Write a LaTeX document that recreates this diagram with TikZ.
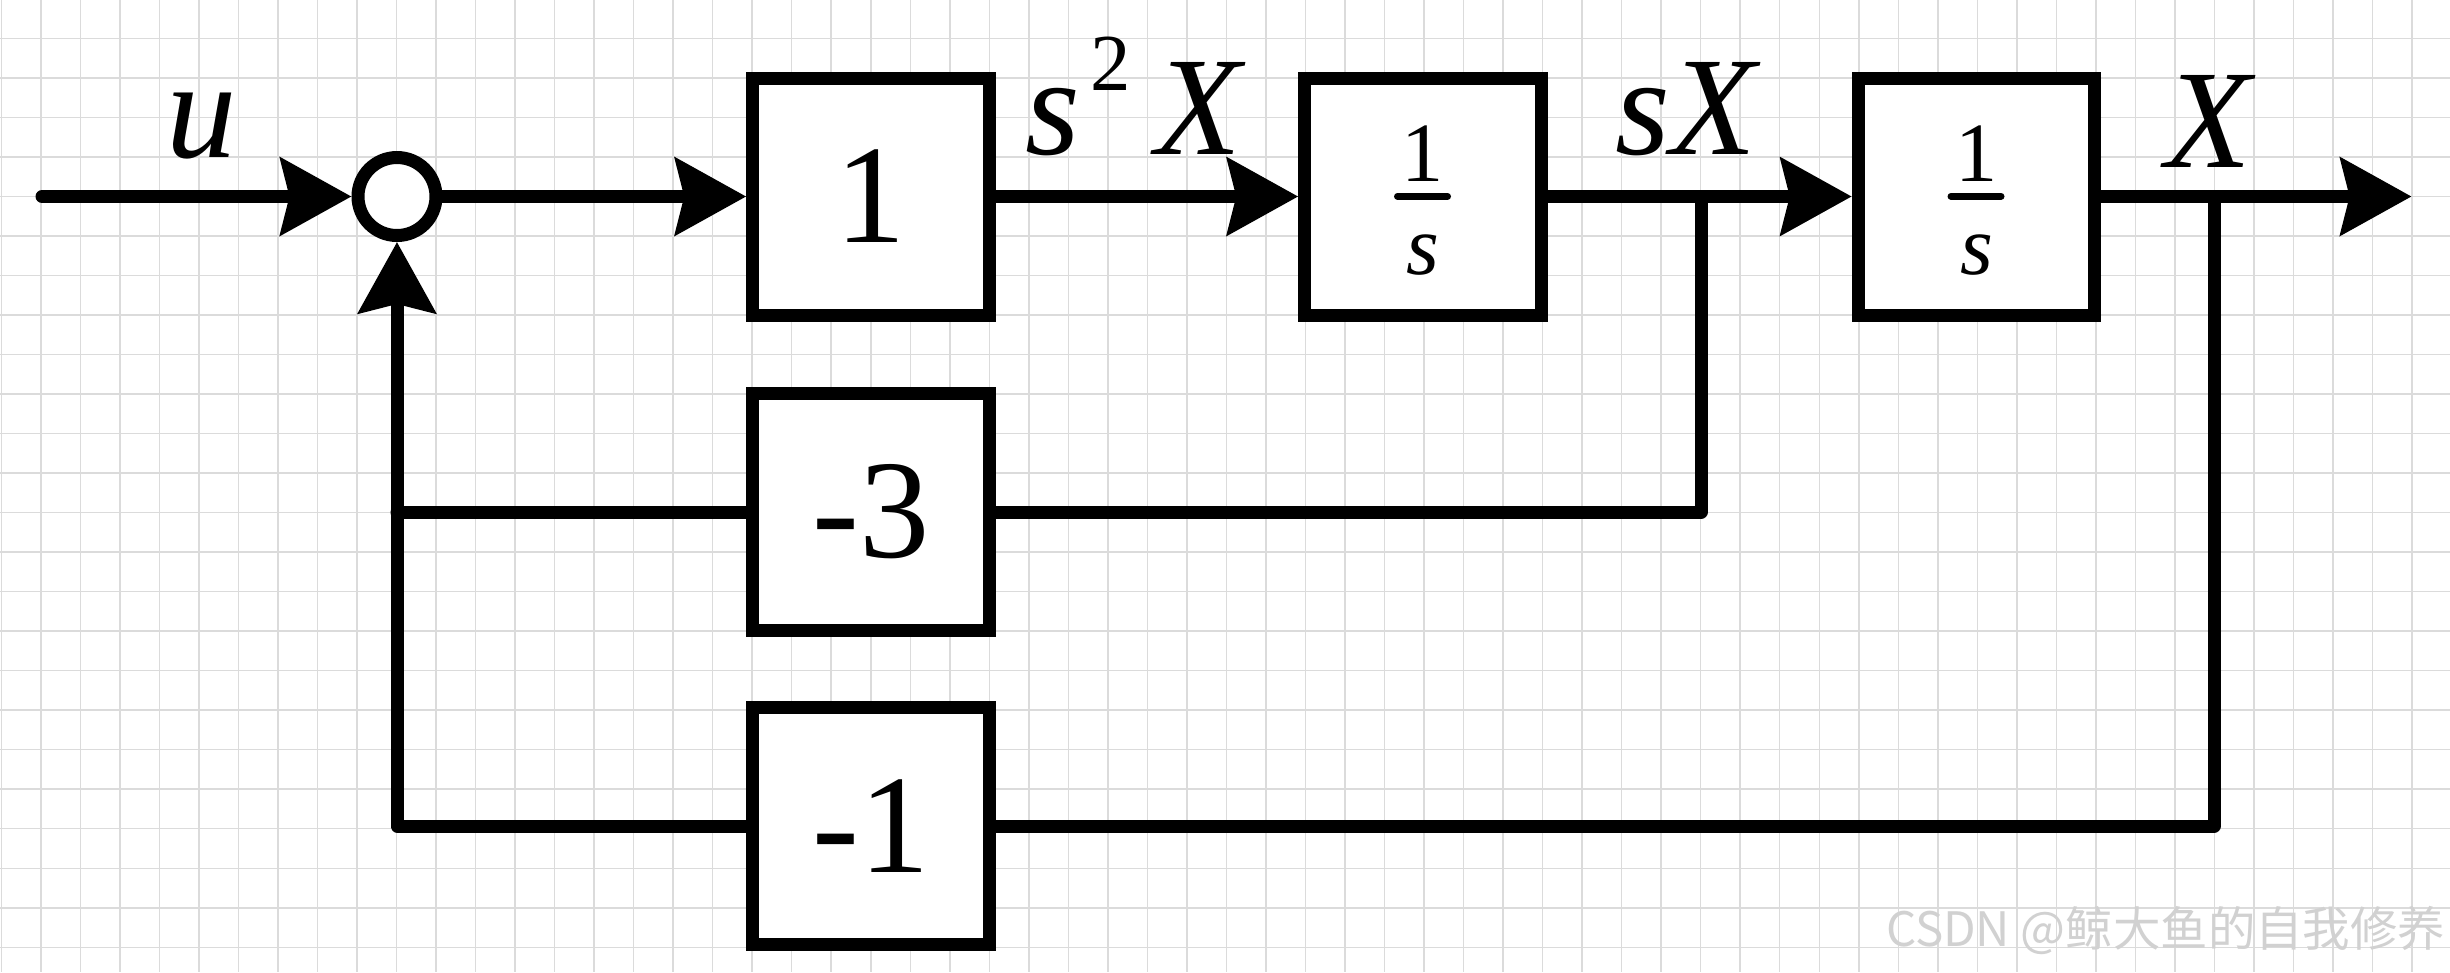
\documentclass[tikz,border=0pt]{standalone}
\usepackage{fontspec}
\setmainfont{Liberation Serif}
\newfontfamily\cjk{Noto Sans CJK SC}
\usetikzlibrary{arrows.meta,calc}

\tikzset{
  wire/.style={line width=1.3mm, line cap=round, line join=round},
  arr/.style={wire, -{Stealth[length=7.1mm, width=7.7mm, inset=0.9mm]}},
  blk/.style={draw, fill=white, line width=1.3mm, minimum width=23.65mm, minimum height=23.7mm, inner sep=0pt, font=\fontsize{40}{48}\selectfont},
  sig/.style={anchor=base west, inner sep=0pt, font=\fontsize{40}{48}\selectfont\itshape},
  frac/.style={anchor=base, inner sep=0pt, font=\fontsize{24}{28}\selectfont},
  fracbar/.style={line width=0.7mm, line cap=round},
  gridline/.style={draw=black!14, line width=0.15mm}
}

\begin{document}
\begin{tikzpicture}
  \useasboundingbox (0,0) rectangle (24.5,-9.72);
  \fill[white] (0,0) rectangle (24.5,-9.72);
  % grid
  \foreach \i in {0,...,61} \draw[gridline] ({0.013+0.3952*\i},0) -- ++(0,-9.72);
  \foreach \j in {1,...,24} \draw[gridline] (0,{0.012-0.3952*\j}) -- ++(24.5,0);

  % blocks
  \coordinate (in) at (0.42,-1.965);
  \node[circle, draw, fill=white, line width=1.3mm, minimum size=7.8mm, inner sep=0pt] (sum) at (3.97,-1.965) {};
  \node[blk] (g1) at (8.71,-1.965) {1};
  \node[blk] (g2) at (14.23,-1.965) {};
  \node[blk] (g3) at (19.765,-1.965) {};
  \node[blk] (g4) at (8.71,-5.12) {-3};
  \node[blk] (g5) at (8.71,-8.26) {-1};
  \coordinate (b1) at (17.01,-1.965);
  \coordinate (b2) at (22.14,-1.965);
  \coordinate (out) at (24.116,-1.965);

  % 1/s
  \foreach \g in {g2,g3}{
    \node[frac] (\g-n) at ($(\g)+(0,0.148)$) {1};
    \draw[fracbar] ($(\g)+(-0.255,0.002)$) -- ($(\g)+(0.245,0.002)$);
    \node[frac, font=\fontsize{24}{28}\selectfont\itshape] (\g-d) at ($(\g)+(0,-0.775)$) {s};
  }

  % forward path
  \draw[arr] (in) -- (sum);
  \draw[arr] (sum) -- (g1);
  \draw[arr] (g1) -- (g2);
  \draw[arr] (g2) -- (g3);
  \draw[arr] (g3) -- (out);
  % feedback
  \draw[wire] (b1) -- (b1 |- g4) -- (g4);
  \draw[wire] (b2) -- (b2 |- g5) -- (g5);
  \draw[wire] (g4) -- (sum |- g4);
  \draw[arr] (g5) -- (sum |- g5) -- (sum);

  % signals
  \node[sig] (u) at (1.655,-1.575) {u};
  \node[sig] (s2x) at (10.25,-1.54) {s\hspace{0.1cm}\raisebox{0.64cm}{\fontsize{23}{23}\selectfont\upshape 2}\hspace{0.25cm}X};
  \node[sig] (sx) at (16.15,-1.54) {sX};
  \node[sig] (x) at (21.65,-1.67) {X};

  \node[anchor=base east, inner sep=0pt, text=black!18, font=\cjk\fontsize{13.5}{16}\selectfont] (wm) at (24.46,-9.46) {CSDN @鲸大鱼的自我修养};
\end{tikzpicture}
\end{document}
